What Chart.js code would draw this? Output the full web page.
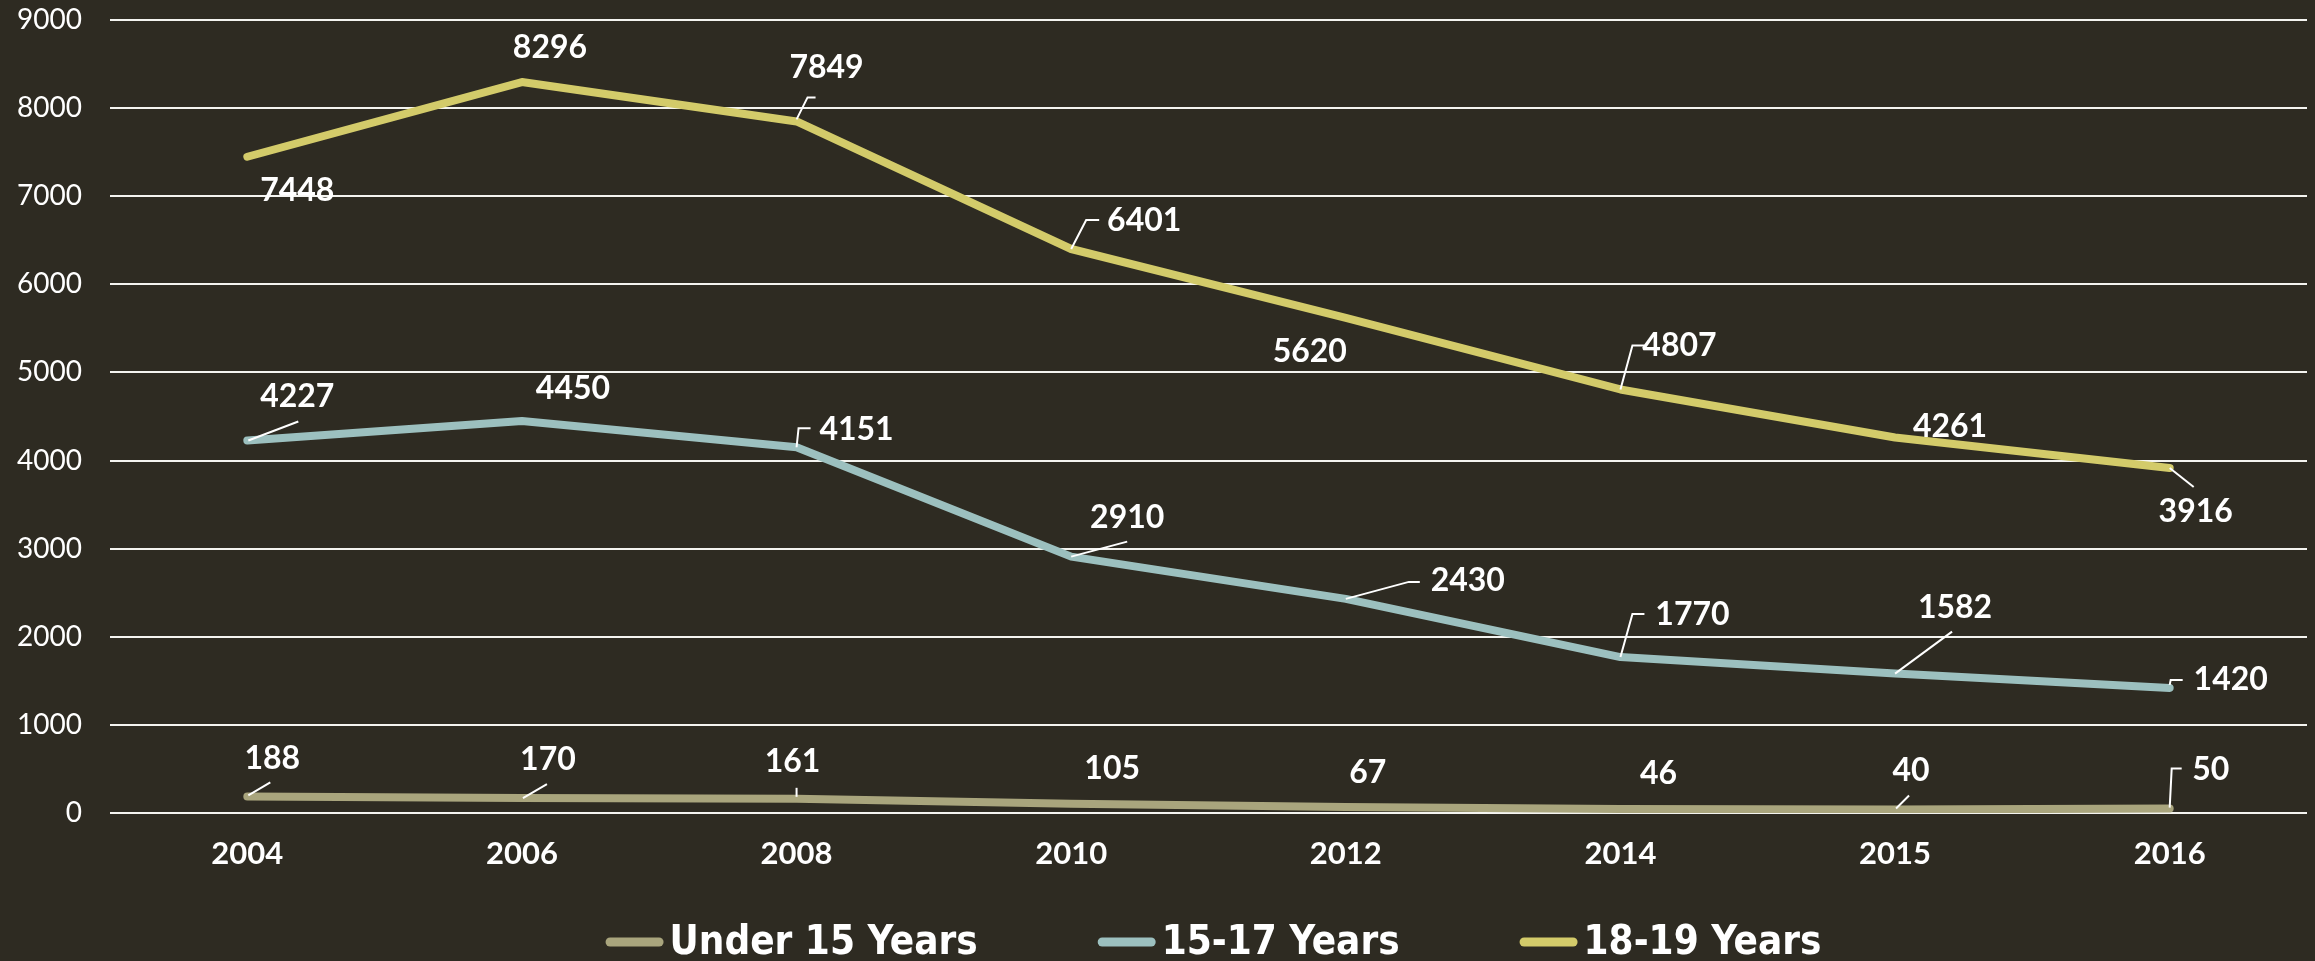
<!DOCTYPE html>
<html>
<head>
<meta charset="utf-8">
<script src="https://cdn.jsdelivr.net/npm/chart.js@4.4.1/dist/chart.umd.min.js"></script>
<style>
  html, body { margin: 0; padding: 0; background: #2e2b22; }
  #wrap { width: 2315px; height: 961px; }
</style>
</head>
<body>
<div id="wrap"><canvas id="c" width="2315" height="961"></canvas></div>
<script>
// ---- data ----
const categories = ['2004', '2006', '2008', '2010', '2012', '2014', '2015', '2016'];
const seriesNames = ['Under 15 Years', '15-17 Years', '18-19 Years'];
const under15 = [188, 170, 161, 105, 67, 46, 40, 50];
const age15to17 = [4227, 4450, 4151, 2910, 2430, 1770, 1582, 1420];
const age18to19 = [7448, 8296, 7849, 6401, 5620, 4807, 4261, 3916];
const yTicks = [0, 1000, 2000, 3000, 4000, 5000, 6000, 7000, 8000, 9000];

// ---- styling / label placement (not data) ----
const colors = ['#a9a57d', '#9cc0bf', '#d3cb6a'];
const labelPlacement = [
  [ {dx:25,dy:-38,path:[[1,-1],[23,-14]]}, {dx:26,dy:-38,path:[[1,0],[25,-14]]},
    {dx:-4,dy:-37,path:[[0,-2],[0,-11]]}, {dx:41,dy:-35}, {dx:22,dy:-34}, {dx:38,dy:-35},
    {dx:16,dy:-39,path:[[1,-1],[14,-14]]}, {dx:41,dy:-39,path:[[0,-1],[2,-40],[12,-40]]} ],
  [ {dx:50,dy:-44,path:[[1,0],[51,-19]]}, {dx:51,dy:-32},
    {dx:60,dy:-18,path:[[0,0],[2,-19],[14,-19]]}, {dx:56,dy:-39,path:[[0,0],[56,-15]]},
    {dx:122,dy:-18,path:[[0,0],[63,-17],[74,-17]]}, {dx:72,dy:-42,path:[[0,0],[12,-43],[24,-43]]},
    {dx:60,dy:-66,path:[[0,0],[57,-42]]}, {dx:61,dy:-8,path:[[0,-3],[1,-8],[13,-8]]} ],
  [ {dx:50,dy:34}, {dx:28,dy:-34}, {dx:30,dy:-54,path:[[0,-2],[11,-24],[19,-24]]},
    {dx:73,dy:-28,path:[[0,0],[15,-29],[28,-29]]}, {dx:-36,dy:34},
    {dx:59,dy:-44,path:[[0,0],[12,-44],[24,-44]]}, {dx:55,dy:-11},
    {dx:26,dy:44,path:[[0,0],[24,19]]} ]
];

const bgPlugin = {
  id: 'bg',
  beforeDraw(chart) {
    const ctx = chart.ctx;
    ctx.save();
    ctx.fillStyle = '#2e2b22';
    ctx.fillRect(0, 0, chart.width, chart.height);
    ctx.restore();
  }
};

const labelPlugin = {
  id: 'valueLabels',
  afterDatasetsDraw(chart) {
    const ctx = chart.ctx;
    ctx.save();
    chart.data.datasets.forEach((ds, di) => {
      const meta = chart.getDatasetMeta(di);
      meta.data.forEach((pt, i) => {
        const pl = labelPlacement[di][i];
        if (pl.path) {
          ctx.strokeStyle = '#ffffff';
          ctx.lineWidth = 2;
          ctx.lineCap = 'butt';
          ctx.lineJoin = 'miter';
          ctx.beginPath();
          pl.path.forEach((p, k) => {
            if (k === 0) ctx.moveTo(pt.x + p[0], pt.y + p[1]);
            else ctx.lineTo(pt.x + p[0], pt.y + p[1]);
          });
          ctx.stroke();
        }
        ctx.fillStyle = '#ffffff';
        ctx.font = 'bold 32px Lato, "Open Sans", sans-serif';
        ctx.textAlign = 'center';
        ctx.textBaseline = 'middle';
        ctx.fillText(String(ds.data[i]), pt.x + pl.dx, pt.y + pl.dy);
      });
    });
    ctx.restore();
  }
};

const legendPlugin = {
  id: 'customLegend',
  afterDraw(chart) {
    const ctx = chart.ctx;
    const ca = chart.chartArea;
    ctx.save();
    ctx.font = 'bold 40px "DejaVu Sans Condensed", "Liberation Sans Narrow", sans-serif';
    const boxW = 58, boxH = 9, gap = 6, spacing = 120;
    const widths = chart.data.datasets.map(ds => boxW + gap + ctx.measureText(ds.label).width);
    const total = widths.reduce((a, b) => a + b, 0) + spacing * (widths.length - 1);
    let x = (ca.left + ca.right) / 2 + 5 - total / 2;
    const cy = 942;
    chart.data.datasets.forEach((ds, i) => {
      ctx.fillStyle = ds.borderColor;
      ctx.beginPath();
      if (ctx.roundRect) ctx.roundRect(x, cy - boxH / 2, boxW, boxH, boxH / 2);
      else ctx.rect(x, cy - boxH / 2, boxW, boxH);
      ctx.fill();
      ctx.fillStyle = '#ffffff';
      ctx.textAlign = 'left';
      ctx.textBaseline = 'middle';
      ctx.fillText(ds.label, x + boxW + gap, cy + 2);
      x += widths[i] + spacing;
    });
    ctx.restore();
  }
};

const seriesValues = [under15, age15to17, age18to19];
const datasets = seriesValues.map((vals, i) => ({
  label: seriesNames[i],
  data: vals,
  borderColor: colors[i],
  backgroundColor: colors[i],
  borderWidth: 8,
  borderCapStyle: 'round',
  borderJoinStyle: 'round',
  pointRadius: 0,
  pointHoverRadius: 0,
  tension: 0,
  fill: false
}));

new Chart(document.getElementById('c'), {
  type: 'line',
  data: { labels: categories, datasets: datasets },
  options: {
    responsive: false,
    animation: false,
    devicePixelRatio: 1,
    layout: { padding: { left: 0, top: 20, right: 8, bottom: 88 } },
    plugins: {
      legend: { display: false },
      tooltip: { enabled: false }
    },
    scales: {
      x: {
        offset: true,
        grid: { display: false, drawTicks: false },
        border: { display: false },
        ticks: {
          color: '#ffffff',
          padding: 22,
          font: { family: 'Lato, "Open Sans", sans-serif', size: 31, weight: 'bold', lineHeight: 1.2 }
        },
        afterFit(scale) { scale.height = 60; scale.paddingLeft = 0; scale.paddingRight = 0; }
      },
      y: {
        min: 0,
        max: 9000,
        afterBuildTicks(scale) { scale.ticks = yTicks.map(v => ({ value: v })); },
        grid: { color: '#f4f4f0', lineWidth: 2, drawTicks: false },
        border: { display: false },
        ticks: {
          color: '#ffffff',
          padding: 28,
          callback: (v) => String(v),
          font: { family: 'Lato, "Open Sans", sans-serif', size: 28, weight: 'normal' }
        },
        afterFit(scale) { scale.width = 110; scale.paddingTop = 0; scale.paddingBottom = 0; }
      }
    }
  },
  plugins: [bgPlugin, labelPlugin, legendPlugin]
});
</script>
</body>
</html>
